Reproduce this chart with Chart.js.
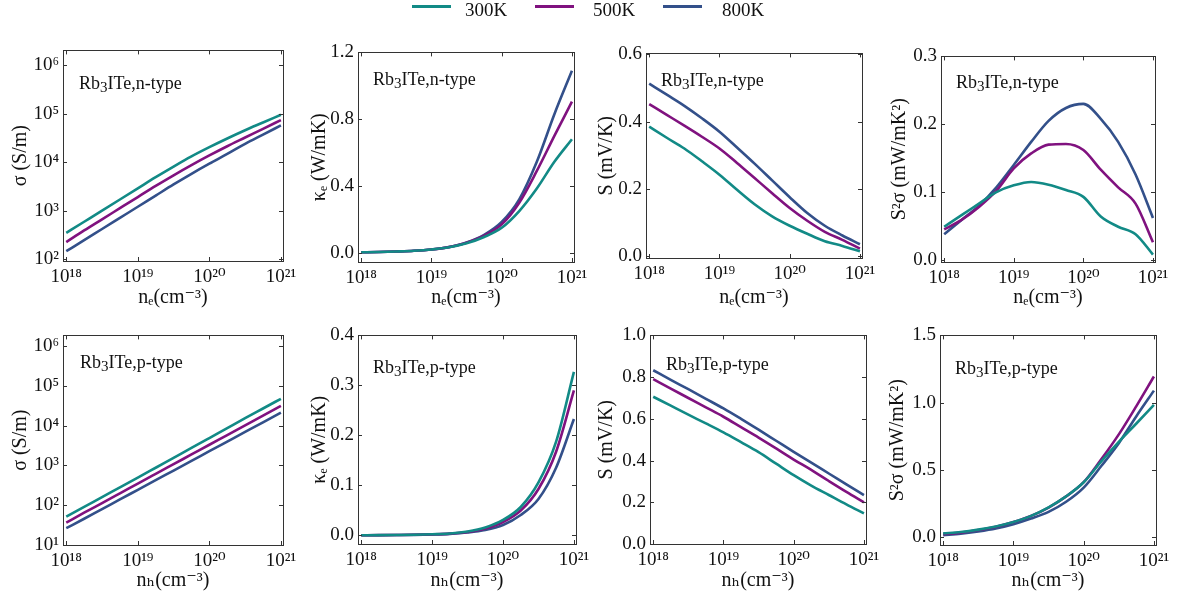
<!DOCTYPE html>
<html><head><meta charset="utf-8">
<script src="https://cdn.jsdelivr.net/npm/chart.js@4.4.0/dist/chart.umd.min.js"></script>
<style>
body{margin:0;background:#fff;width:1178px;height:605px;overflow:hidden;position:relative;font-family:"Liberation Serif","DejaVu Serif",serif;color:#111;}
canvas{position:absolute;}
.ann{position:absolute;font-size:18px;line-height:18px;white-space:nowrap;color:#111;}
.ann sub{font-size:15px;line-height:0;vertical-align:-3px;}
.lg{position:absolute;height:2.5px;}
.lgt{position:absolute;font-size:19px;line-height:19px;white-space:nowrap;}
</style></head><body>
<script>
// ---------- DATA ----------
const temperatures = ['300K', '500K', '800K'];
const carrierConc = [1e18, 1.778e18, 3.162e18, 5.623e18, 1e19, 1.778e19, 3.162e19, 5.623e19, 1e20, 1.778e20, 3.162e20, 5.623e20, 1e21];
const xTickValues = [1e18, 1e19, 1e20, 1e21];
const xTickLabels = ['10¹⁸', '10¹⁹', '10²⁰', '10²¹'];

// n-type
const sigmaN300 = [347, 589, 1000, 1698, 2884, 4898, 8128, 13180, 20420, 30900, 45710, 66070, 95500];
const sigmaN500 = [224, 389, 661, 1122, 1905, 3236, 5370, 8710, 13800, 21380, 32360, 48980, 74130];
const sigmaN800 = [145, 245, 417, 708, 1202, 2042, 3467, 5754, 9333, 14790, 23990, 37150, 57540];
const kappaN300 = [0.003, 0.005, 0.008, 0.012, 0.020, 0.033, 0.057, 0.095, 0.150, 0.250, 0.385, 0.545, 0.680];
const kappaN500 = [0.003, 0.005, 0.008, 0.012, 0.020, 0.034, 0.060, 0.103, 0.170, 0.300, 0.490, 0.700, 0.905];
const kappaN800 = [0.003, 0.005, 0.008, 0.012, 0.020, 0.035, 0.062, 0.108, 0.185, 0.320, 0.545, 0.830, 1.090];
const seebN300 = [0.385, 0.352, 0.320, 0.282, 0.242, 0.197, 0.154, 0.118, 0.090, 0.066, 0.044, 0.030, 0.014];
const seebN500 = [0.452, 0.420, 0.388, 0.355, 0.320, 0.277, 0.232, 0.187, 0.143, 0.105, 0.072, 0.048, 0.022];
const seebN800 = [0.513, 0.480, 0.447, 0.410, 0.370, 0.323, 0.275, 0.225, 0.175, 0.128, 0.090, 0.061, 0.035];
const pfN300 = [0.049, 0.066, 0.083, 0.100, 0.110, 0.115, 0.111, 0.103, 0.093, 0.064, 0.049, 0.038, 0.008];
const pfN500 = [0.045, 0.059, 0.078, 0.102, 0.135, 0.157, 0.170, 0.171, 0.162, 0.133, 0.107, 0.083, 0.026];
const pfN800 = [0.038, 0.059, 0.080, 0.107, 0.140, 0.174, 0.205, 0.224, 0.230, 0.208, 0.174, 0.126, 0.062];

// p-type
const sigmaP300 = [51, 90, 158, 279, 490, 871, 1549, 2754, 4898, 8710, 15490, 27230, 47860];
const sigmaP500 = [36, 64, 112, 197, 347, 610, 1072, 1884, 3311, 5821, 10230, 17990, 31620];
const sigmaP800 = [26, 45, 79, 138, 242, 424, 741, 1297, 2275, 3981, 6966, 12220, 21380];
const kappaP300 = [0.0005, 0.0007, 0.001, 0.0015, 0.0025, 0.004, 0.008, 0.016, 0.031, 0.057, 0.106, 0.188, 0.327];
const kappaP500 = [0.0005, 0.0007, 0.001, 0.0014, 0.0023, 0.0037, 0.007, 0.014, 0.027, 0.050, 0.093, 0.168, 0.290];
const kappaP800 = [0.0004, 0.0006, 0.0009, 0.0013, 0.002, 0.0033, 0.006, 0.011, 0.021, 0.041, 0.073, 0.136, 0.233];
const seebP300 = [0.706, 0.663, 0.620, 0.578, 0.535, 0.488, 0.440, 0.385, 0.330, 0.280, 0.235, 0.190, 0.147];
const seebP500 = [0.790, 0.745, 0.700, 0.655, 0.610, 0.560, 0.510, 0.458, 0.405, 0.355, 0.302, 0.250, 0.200];
const seebP800 = [0.833, 0.787, 0.742, 0.696, 0.650, 0.600, 0.548, 0.495, 0.442, 0.390, 0.338, 0.286, 0.234];
const pfP300 = [0.030, 0.040, 0.058, 0.082, 0.115, 0.160, 0.224, 0.305, 0.410, 0.565, 0.710, 0.846, 0.985];
const pfP500 = [0.025, 0.036, 0.055, 0.080, 0.115, 0.160, 0.222, 0.305, 0.410, 0.580, 0.765, 0.975, 1.195];
const pfP800 = [0.017, 0.027, 0.044, 0.066, 0.098, 0.140, 0.190, 0.265, 0.370, 0.530, 0.700, 0.900, 1.090];

// tick values / labels
const sigmaNTicks = [1e2, 1e3, 1e4, 1e5, 1e6];
const sigmaNTickLabels = ['10²', '10³', '10⁴', '10⁵', '10⁶'];
const sigmaPTicks = [1e1, 1e2, 1e3, 1e4, 1e5, 1e6];
const sigmaPTickLabels = ['10¹', '10²', '10³', '10⁴', '10⁵', '10⁶'];
const kappaNTicks = [0, 0.4, 0.8, 1.2];
const kappaNTickLabels = ['0.0', '0.4', '0.8', '1.2'];
const seebNTicks = [0, 0.2, 0.4, 0.6];
const seebNTickLabels = ['0.0', '0.2', '0.4', '0.6'];
const pfNTicks = [0, 0.1, 0.2, 0.3];
const pfNTickLabels = ['0.0', '0.1', '0.2', '0.3'];
const kappaPTicks = [0, 0.1, 0.2, 0.3, 0.4];
const kappaPTickLabels = ['0.0', '0.1', '0.2', '0.3', '0.4'];
const seebPTicks = [0, 0.2, 0.4, 0.6, 0.8, 1.0];
const seebPTickLabels = ['0.0', '0.2', '0.4', '0.6', '0.8', '1.0'];
const pfPTicks = [0, 0.5, 1.0, 1.5];
const pfPTickLabels = ['0.0', '0.5', '1.0', '1.5'];

// ---------- STYLE / LAYOUT ----------
const colors = ['#128a86', '#80127f', '#33508a'];
const FONT = '"Liberation Serif", "DejaVu Serif", serif';

const panels = [
  {L:63, T:47, R:283, B:261, ytx:21, xty:298, log:true, ymin:91, ymax:2.04e6, ticks:sigmaNTicks, labels:sigmaNTickLabels, series:[sigmaN300,sigmaN500,sigmaN800], ytitle:'σ (S/m)', xtitle:'nₑ(cm⁻³)', ann:'n', ax:79, ay:83},
  {L:358, T:49, R:574, B:262, ytx:320, xty:298, log:false, ymin:-0.055, ymax:1.2, ticks:kappaNTicks, labels:kappaNTickLabels, series:[kappaN300,kappaN500,kappaN800], ytitle:'κₑ (W/mK)', xtitle:'nₑ(cm⁻³)', ann:'n', ax:373, ay:79},
  {L:646, T:50, R:862, B:258, ytx:607, xty:298, log:false, ymin:-0.006, ymax:0.603, ticks:seebNTicks, labels:seebNTickLabels, series:[seebN300,seebN500,seebN800], ytitle:'S (mV/K)', xtitle:'nₑ(cm⁻³)', ann:'n', ax:661, ay:80},
  {L:941, T:53, R:1155, B:262, ytx:900, xty:298, log:false, ymin:-0.003, ymax:0.3, ticks:pfNTicks, labels:pfNTickLabels, series:[pfN300,pfN500,pfN800], ytitle:'S²σ (mW/mK²)', xtitle:'nₑ(cm⁻³)', ann:'n', ax:956, ay:82},
  {L:63, T:332, R:283, B:545, ytx:21, xty:581, log:true, ymin:9.8, ymax:1.9e6, ticks:sigmaPTicks, labels:sigmaPTickLabels, series:[sigmaP300,sigmaP500,sigmaP800], ytitle:'σ (S/m)', xtitle:'nₕ(cm⁻³)', ann:'p', ax:80, ay:362},
  {L:358, T:332, R:576, B:544, ytx:320, xty:581, log:false, ymin:-0.017, ymax:0.4, ticks:kappaPTicks, labels:kappaPTickLabels, series:[kappaP300,kappaP500,kappaP800], ytitle:'κₑ (W/mK)', xtitle:'nₕ(cm⁻³)', ann:'p', ax:373, ay:367},
  {L:650, T:332, R:866, B:544, ytx:607, xty:581, log:false, ymin:0, ymax:1.0, ticks:seebPTicks, labels:seebPTickLabels, series:[seebP300,seebP500,seebP800], ytitle:'S (mV/K)', xtitle:'nₕ(cm⁻³)', ann:'p', ax:666, ay:364},
  {L:940, T:332, R:1156, B:545, ytx:898, xty:581, log:false, ymin:-0.056, ymax:1.5, ticks:pfPTicks, labels:pfPTickLabels, series:[pfP300,pfP500,pfP800], ytitle:'S²σ (mW/mK²)', xtitle:'nₕ(cm⁻³)', ann:'p', ax:955, ay:368}
];

const framePlugin = {
  id: 'frame',
  afterDatasetsDraw(chart) {
    const {ctx, chartArea: a, scales} = chart;
    ctx.save();
    ctx.strokeStyle = '#333';
    ctx.lineWidth = 1;
    ctx.strokeRect(Math.round(a.left) + 0.5, Math.round(a.top) + 0.5, Math.round(a.right - a.left), Math.round(a.bottom - a.top));
    const tl = 4;
    ctx.beginPath();
    scales.x.ticks.forEach(t => {
      const px = Math.round(scales.x.getPixelForValue(t.value)) + 0.5;
      ctx.moveTo(px, a.bottom); ctx.lineTo(px, a.bottom - tl);
      ctx.moveTo(px, a.top); ctx.lineTo(px, a.top + tl);
    });
    scales.y.ticks.forEach(t => {
      const py = Math.round(scales.y.getPixelForValue(t.value)) + 0.5;
      ctx.moveTo(a.left, py); ctx.lineTo(a.left + tl, py);
      ctx.moveTo(a.right, py); ctx.lineTo(a.right - tl, py);
    });
    ctx.stroke();
    ctx.restore();
  }
};

function makePanel(p) {
  const padTop = 12, padRight = 24;
  const cLeft = p.ytx - 14;
  const cTop = p.T - padTop;
  const cBottom = p.xty + 14;
  const w = p.R + padRight - cLeft;
  const h = cBottom - cTop;
  const yW = p.L - cLeft;
  const xH = cBottom - p.B;
  const cv = document.createElement('canvas');
  cv.width = w; cv.height = h;
  cv.style.left = cLeft + 'px'; cv.style.top = cTop + 'px';
  cv.style.width = w + 'px'; cv.style.height = h + 'px';
  document.body.appendChild(cv);

  new Chart(cv, {
    type: 'line',
    data: {
      datasets: p.series.map((s, i) => ({
        label: temperatures[i],
        data: carrierConc.map((x, j) => ({x: x, y: s[j]})),
        borderColor: colors[i],
        borderWidth: 2.6,
        pointRadius: 0,
        fill: false,
        cubicInterpolationMode: 'monotone'
      }))
    },
    options: {
      responsive: false, animation: false, devicePixelRatio: 1,
      layout: {padding: {top: padTop, right: padRight, left: 0, bottom: 0}},
      plugins: {legend: {display: false}, tooltip: {enabled: false}},
      scales: {
        x: {
          type: 'logarithmic', min: 0.9e18, max: 1.07e21,
          grid: {display: false, drawTicks: false}, border: {display: false},
          afterBuildTicks: s => { s.ticks = xTickValues.map(v => ({value: v})); },
          afterFit: s => { s.height = xH; },
          ticks: {autoSkip: false, maxRotation: 0, padding: 5, color: '#111',
                  font: {family: FONT, size: 19},
                  callback: (v, i) => xTickLabels[i]},
          title: {display: true, text: p.xtitle, color: '#111', font: {family: FONT, size: 20, lineHeight: 1.2}, padding: {top: 0, bottom: 2}}
        },
        y: {
          type: p.log ? 'logarithmic' : 'linear', min: p.ymin, max: p.ymax,
          grid: {display: false, drawTicks: false}, border: {display: false},
          afterBuildTicks: s => { s.ticks = p.ticks.map(v => ({value: v})); },
          afterFit: s => { s.width = yW; },
          ticks: {autoSkip: false, padding: 4, color: '#111',
                  font: {family: FONT, size: 19},
                  callback: (v, i) => p.labels[i]},
          title: {display: true, text: p.ytitle, color: '#111', font: {family: FONT, size: 20, lineHeight: 1.2}, padding: {top: 2, bottom: 0}}
        }
      }
    },
    plugins: [framePlugin]
  });

  const ann = document.createElement('div');
  ann.className = 'ann';
  ann.style.left = p.ax + 'px';
  ann.style.top = (p.ay - 9) + 'px';
  ann.innerHTML = 'Rb<sub>3</sub>ITe,' + p.ann + '-type';
  document.body.appendChild(ann);
}

panels.forEach(makePanel);

// legend
const legendPos = [{sx:412, tx:465}, {sx:535, tx:593}, {sx:663, tx:722}];
temperatures.forEach((t, i) => {
  const s = document.createElement('div');
  s.className = 'lg';
  s.style.left = legendPos[i].sx + 'px'; s.style.top = '5px';
  s.style.width = '39px'; s.style.background = colors[i];
  document.body.appendChild(s);
  const l = document.createElement('div');
  l.className = 'lgt';
  l.style.left = legendPos[i].tx + 'px'; l.style.top = '0px';
  l.textContent = t;
  document.body.appendChild(l);
});
</script>
</body></html>
